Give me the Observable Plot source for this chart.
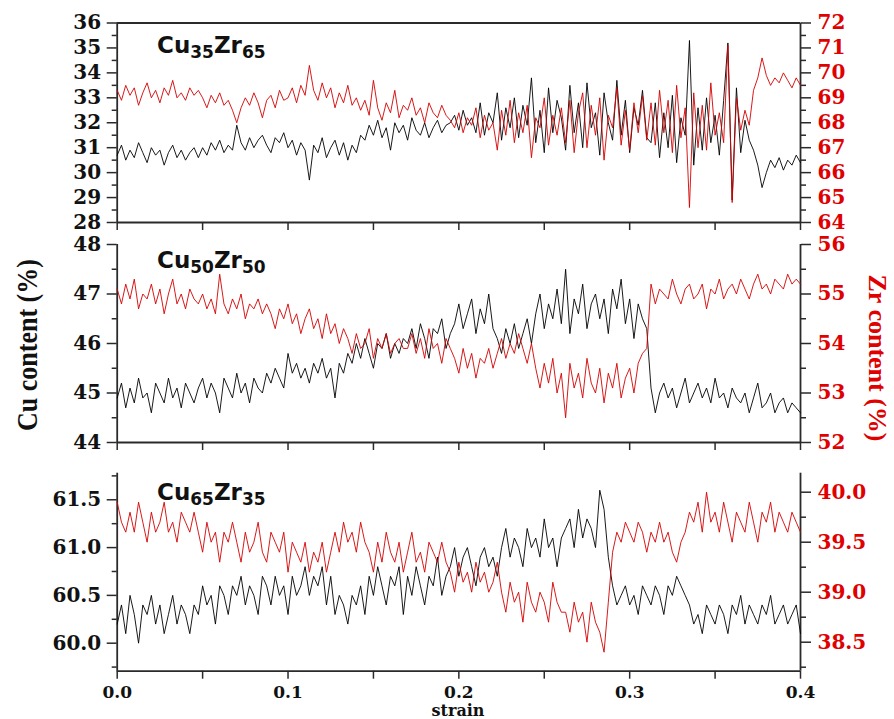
<!DOCTYPE html>
<html><head><meta charset="utf-8">
<script src="https://cdn.jsdelivr.net/npm/d3@7"></script>
<script src="https://cdn.jsdelivr.net/npm/@observablehq/plot@0.6"></script>
<style>
body{margin:0;background:#fff;}
#chart{position:relative;width:894px;height:719px;overflow:hidden;background:#fff;}
#chart svg{position:absolute;left:0;top:0;}
.ytitle{position:absolute;font-family:'Liberation Serif','Times New Roman',Times,serif;font-weight:bold;font-size:26px;white-space:nowrap;line-height:1;}
.plabel{position:absolute;left:157px;font-family:"DejaVu Sans",sans-serif;font-weight:bold;font-size:23px;white-space:nowrap;line-height:1;color:#111;}
.plabel span{font-size:17px;position:relative;top:5px;}
.xtitle{position:absolute;left:458px;top:703px;transform:translateX(-50%);font-family:"DejaVu Serif",serif;font-weight:bold;font-size:16px;line-height:1;color:#111;}
</style></head>
<body>
<div id="chart"></div>
<script>
// strain grid (step 0.0025, 0 .. 0.4)
const strainStep = 0.0025;
const strain = d3.range(161).map(i => +(i * strainStep).toFixed(4));

// Panel 1: Cu35Zr65
const cu35 = [
30.7,31.1,30.5,30.9,30.6,31.2,30.8,30.4,31.0,30.7,30.9,30.3,30.8,31.1,30.6,30.9,30.5,30.8,31.0,30.6,
31.0,30.7,31.2,30.9,31.3,30.8,31.1,30.9,
31.9,31.2,30.9,31.4,31.0,31.3,31.5,31.1,30.8,31.4,31.2,31.6,
31.0,31.3,30.7,31.2,30.9,29.7,31.1,30.8,31.4,30.6,31.0,31.3,30.7,31.2,30.5,31.1,30.8,31.5,
31.3,31.9,31.5,32.1,31.4,31.8,30.9,32.0,31.6,31.9,31.3,32.2,31.7,31.5,32.0,31.4,31.8,32.1,31.6,31.9,
32.0,32.3,31.7,32.5,31.9,32.2,31.6,32.8,31.5,32.4,32.0,33.2,31.3,32.6,31.8,33.0,31.4,32.7,31.9,33.8,31.2,32.5,30.8,33.4,31.6,32.9,
32.2,30.9,33.5,31.6,32.8,31.0,33.6,31.8,32.4,30.7,33.2,32.0,31.3,33.7,31.5,32.9,30.8,32.6,31.9,33.3,31.4,
31.2,32.8,30.6,32.4,31.0,33.1,30.4,32.2,31.5,35.3,30.3,32.6,30.9,33.0,31.2,32.3,30.7,32.9,35.2,28.9,33.4,30.8,32.1,31.3,
30.9,30.3,29.4,30.0,30.5,30.2,30.6,30.1,30.5,30.3,30.7,30.4
];
const zr65 = [
69.3,68.9,69.5,69.1,69.4,68.7,69.2,69.6,69.0,69.3,68.8,69.4,69.1,69.7,69.0,69.2,68.9,69.4,69.1,69.3,
69.0,68.6,69.1,68.8,69.2,68.7,68.9,68.5,
68.0,68.6,69.0,68.7,69.2,68.8,68.2,68.9,69.1,68.6,69.3,68.9,
69.0,69.4,68.8,69.5,69.1,70.3,69.3,68.9,69.6,69.0,69.4,68.6,69.2,68.8,69.5,68.7,69.0,68.5,
68.9,68.3,69.7,68.6,68.1,68.8,68.4,69.3,68.2,68.7,68.5,69.0,68.3,68.6,68.0,68.8,68.4,68.2,68.7,68.3,
68.1,67.8,68.4,67.6,68.2,67.9,68.6,67.4,68.3,67.7,68.0,66.9,68.5,67.5,68.9,67.2,68.4,67.6,68.7,66.6,68.2,67.8,69.0,67.1,68.3,67.5,
68.6,67.2,68.9,66.8,68.4,69.2,67.0,68.7,67.5,69.0,66.5,68.3,67.8,69.4,67.1,68.5,66.9,68.8,67.6,69.1,67.3,
68.8,67.1,69.3,67.6,68.9,66.8,69.5,67.4,68.6,64.6,69.2,67.0,68.7,66.9,69.6,67.5,68.4,67.2,71.1,64.8,69.0,67.7,68.5,67.9,
69.3,69.8,70.6,69.9,69.5,69.8,69.6,70.0,69.7,69.4,69.8,69.5
];

// Panel 2: Cu50Zr50
const cu50 = [
44.9,45.2,44.7,45.1,44.8,45.3,44.9,45.0,44.6,45.2,45.0,44.8,45.3,44.9,45.1,44.7,45.2,45.0,44.8,45.1,
45.3,44.9,45.2,45.0,44.6,45.3,45.1,44.9,45.4,45.0,45.2,44.8,45.3,45.1,45.0,45.4,
45.2,45.5,45.3,45.1,45.8,45.4,45.6,45.3,45.5,45.2,45.6,45.4,45.7,45.3,45.5,44.9,45.6,45.4,
45.8,45.6,46.0,45.7,46.1,45.8,45.5,46.0,45.9,46.2,45.7,46.0,45.8,46.1,
46.0,46.3,45.9,46.4,46.1,45.7,46.3,46.2,46.5,45.9,46.2,
46.4,46.8,46.3,46.6,46.9,46.2,46.7,46.4,47.0,46.3,
46.1,45.8,46.3,46.0,46.4,45.9,46.2,46.5,46.0,
46.6,47.0,46.3,46.8,46.5,47.1,46.4,47.5,46.2,46.9,46.6,47.2,46.3,46.8,47.0,46.5,46.9,46.2,47.1,46.7,47.3,46.4,46.9,46.1,46.8,46.5,46.3,
45.1,44.6,45.0,45.2,44.9,45.1,44.7,45.0,45.3,44.8,45.0,45.2,44.9,45.1,44.8,45.3,44.9,45.0,44.7,45.1,44.9,44.8,45.0,44.6,44.9,45.2,44.7,44.8,45.0,44.6,44.8,44.9,44.6,44.8,44.7,44.6
];
const zr50 = [
55.1,54.8,55.2,54.9,55.3,54.7,55.0,54.9,55.2,54.8,55.1,54.6,55.0,55.3,54.8,55.0,54.7,55.1,54.9,54.8,
55.0,54.7,54.9,54.6,55.4,54.8,54.6,54.9,54.7,55.0,54.5,54.8,54.7,54.9,54.6,54.8,
54.6,54.3,54.7,54.5,54.8,54.4,54.6,54.2,54.5,54.7,54.3,54.5,54.1,54.6,54.2,54.4,54.0,54.3,
54.1,53.8,54.2,53.9,54.0,54.3,53.7,54.1,53.9,54.2,53.8,54.0,54.1,53.9,
53.9,54.2,53.8,54.1,53.7,54.3,53.9,54.0,53.6,54.1,53.9,
53.7,53.4,53.9,53.5,53.8,53.3,53.7,53.6,53.9,53.5,
53.8,54.1,53.7,54.0,53.8,54.2,53.9,53.6,54.0,
53.5,53.1,53.6,53.2,53.7,53.0,53.4,52.5,53.6,53.1,53.4,52.9,53.7,53.2,53.0,53.5,52.8,53.4,53.1,53.6,52.9,53.3,53.5,53.0,53.6,53.8,53.9,
55.2,54.8,55.1,55.0,54.9,55.3,55.0,54.8,55.1,55.2,54.9,55.0,55.2,54.7,55.1,55.0,55.3,54.9,55.1,55.2,55.0,55.3,55.1,54.9,55.2,55.4,55.1,55.2,55.0,55.3,55.2,55.1,55.4,55.2,55.3,55.2
];

// Panel 3: Cu65Zr35
const cu65 = [
60.2,60.4,60.1,60.5,60.3,60.0,60.4,60.3,60.5,60.2,60.4,60.1,60.3,60.5,60.2,60.4,60.3,60.1,60.4,
60.3,60.6,60.4,60.5,60.2,60.6,60.5,60.3,60.6,
60.5,60.7,60.4,60.6,60.5,60.3,60.7,60.6,60.4,60.7,60.5,60.6,60.3,60.7,60.5,
60.6,60.8,60.5,60.7,60.6,60.8,60.4,60.7,
60.3,60.5,60.4,60.2,60.5,60.4,60.6,60.3,
60.7,60.5,60.8,60.6,60.4,60.7,60.6,60.8,60.3,60.7,60.5,60.8,60.6,60.4,60.7,60.6,60.9,60.5,60.7,
60.8,61.0,60.7,60.9,61.0,60.8,60.6,60.9,61.0,60.8,60.9,60.7,
61.0,61.2,60.9,61.1,61.0,60.8,61.2,61.0,61.1,60.9,61.3,61.0,61.1,60.8,61.1,
61.2,61.3,61.0,61.4,61.1,61.3,61.2,61.0,61.6,61.4,60.9,
60.6,60.4,60.5,60.6,60.4,60.5,60.3,60.6,60.5,60.4,60.6,60.5,60.3,60.6,60.5,60.7,
60.6,60.5,60.4,60.2,60.3,60.1,
60.4,60.3,60.2,60.4,60.3,60.1,60.4,60.3,60.5,60.2,60.4,60.3,60.2,60.4,60.3,60.5,60.2,60.3,60.4,60.2,60.3,60.4,60.1
];
const zr35 = [
39.9,39.7,39.6,39.8,39.6,39.9,39.7,39.5,39.8,39.6,39.7,39.9,39.6,39.7,39.5,39.8,39.7,39.6,39.8,
39.6,39.4,39.7,39.5,39.6,39.3,39.6,39.5,39.7,
39.5,39.3,39.6,39.4,39.5,39.7,39.4,39.3,39.6,39.5,39.4,39.6,39.2,39.5,39.4,
39.3,39.5,39.2,39.4,39.3,39.5,39.2,39.4,
39.6,39.4,39.7,39.5,39.6,39.4,39.7,39.5,
39.4,39.2,39.5,39.3,39.6,39.4,39.3,39.5,39.2,39.4,39.6,39.3,39.4,39.2,39.5,39.4,39.3,39.5,39.3,
39.2,39.0,39.3,39.1,39.2,39.0,39.3,39.1,39.2,39.0,39.1,39.3,
39.0,38.8,39.1,38.9,39.0,38.7,39.1,38.9,38.8,39.0,38.9,38.7,39.1,38.9,38.8,
38.8,38.6,38.9,38.7,38.8,38.5,38.9,38.7,38.6,38.4,38.9,
39.4,39.6,39.5,39.7,39.6,39.5,39.7,39.6,39.4,39.6,39.5,39.7,39.5,39.6,39.4,39.3,
39.5,39.6,39.8,39.7,39.9,39.6,
40.0,39.7,39.8,39.6,39.9,39.7,39.5,39.8,39.7,39.6,39.9,39.7,39.5,39.8,39.7,39.9,39.6,39.8,39.7,39.6,39.8,39.7,39.6
];

// ticks
const xTicks = [0, 0.05, 0.1, 0.15, 0.2, 0.25, 0.3, 0.35, 0.4];
const cu35Ticks = [28,29,30,31,32,33,34,35,36];
const cu35Minor = [28.5,29.5,30.5,31.5,32.5,33.5,34.5,35.5];
const zr65Ticks = [64,65,66,67,68,69,70,71,72];
const zr65Minor = [64.5,65.5,66.5,67.5,68.5,69.5,70.5,71.5];
const cu50Ticks = [44,45,46,47,48];
const cu50Minor = [44.5,45.5,46.5,47.5];
const zr50Ticks = [52,53,54,55,56];
const zr50Minor = [52.5,53.5,54.5,55.5];
const cu65Ticks = [60.0,60.5,61.0,61.5];
const cu65Minor = [59.75,60.25,60.75,61.25,61.75];
const zr35Ticks = [38.5,39.0,39.5,40.0];
const zr35Minor = [38.25,38.75,39.25,39.75];

const W = 894, H = 719, ML = 116.7, MR = 94;
const AXIS = "#2a2a2a", RED = "#d40000", LABELRED = "#e00000";
const serif = "DejaVu Serif";

function panel({top, bottom, domain, values, ticks, minor, fmt, anchor, lineColor, labelColor, isCu, showX, topFrame}) {
  const data = values.map((v, i) => ({x: strain[i], y: v}));
  const marks = [];
  if (isCu) {
    marks.push(Plot.ruleX([0], {stroke: AXIS, strokeWidth: 1.8}));
    marks.push(Plot.ruleX([0.4], {stroke: AXIS, strokeWidth: 1.8}));
    marks.push(Plot.ruleY([domain[0]], {stroke: AXIS, strokeWidth: 1.8}));
    if (topFrame) marks.push(Plot.ruleY([domain[1]], {stroke: AXIS, strokeWidth: 1.8}));
    marks.push(Plot.axisX(xTicks, {anchor: "bottom", tickSize: 8, tickPadding: 7, stroke: AXIS, strokeWidth: 1.5,
      tickFormat: showX ? (d => Math.abs(d * 10 - Math.round(d * 10)) < 1e-6 ? d.toFixed(1) : "") : (() => ""),
      fill: "#111", fontFamily: serif, fontWeight: "bold", fontSize: 17, label: null}));
  }
  marks.push(Plot.line(data, {x: "x", y: "y", stroke: lineColor, strokeWidth: 0.9}));
  marks.push(Plot.axisY(minor, {anchor, tickSize: 5, stroke: AXIS, strokeWidth: 1.5, tickFormat: () => "", label: null}));
  marks.push(Plot.axisY(ticks, {anchor, tickSize: 10, tickPadding: anchor === "left" ? 6 : 7, stroke: AXIS, strokeWidth: 1.5,
    tickFormat: fmt, fill: labelColor, fontFamily: serif, fontWeight: "bold", fontSize: 20, label: null}));
  return Plot.plot({
    width: W, height: H,
    marginLeft: ML, marginRight: MR, marginTop: top, marginBottom: H - bottom,
    x: {domain: [0, 0.4], label: null, axis: isCu ? undefined : null},
    y: {domain, label: null},
    style: {background: "transparent", overflow: "visible"},
    marks
  });
}

const int = d => String(d);
const one = d => d.toFixed(1);
const specs = [
  {top: 22.5, bottom: 222, domain: [28, 36], values: cu35, ticks: cu35Ticks, minor: cu35Minor, fmt: int, anchor: "left", lineColor: "#000", labelColor: "#111", isCu: true, showX: false, topFrame: true},
  {top: 22.5, bottom: 222, domain: [64, 72], values: zr65, ticks: zr65Ticks, minor: zr65Minor, fmt: int, anchor: "right", lineColor: RED, labelColor: LABELRED},
  {top: 244, bottom: 442, domain: [44, 48], values: cu50, ticks: cu50Ticks, minor: cu50Minor, fmt: int, anchor: "left", lineColor: "#000", labelColor: "#111", isCu: true, showX: false},
  {top: 244, bottom: 442, domain: [52, 56], values: zr50, ticks: zr50Ticks, minor: zr50Minor, fmt: int, anchor: "right", lineColor: RED, labelColor: LABELRED},
  {top: 472.7, bottom: 670.7, domain: [59.707, 61.778], values: cu65, ticks: cu65Ticks, minor: cu65Minor, fmt: one, anchor: "left", lineColor: "#000", labelColor: "#111", isCu: true, showX: true},
  {top: 472.7, bottom: 670.7, domain: [38.21, 40.19], values: zr35, ticks: zr35Ticks, minor: zr35Minor, fmt: one, anchor: "right", lineColor: RED, labelColor: LABELRED}
];

const chart = document.getElementById("chart");
for (const s of specs) chart.appendChild(panel(s));

function addDiv(cls, html, style) {
  const d = document.createElement("div");
  d.className = cls; d.innerHTML = html;
  Object.assign(d.style, style);
  chart.appendChild(d);
}
addDiv("plabel", "Cu<span>35</span>Zr<span>65</span>", {top: "33.5px"});
addDiv("plabel", "Cu<span>50</span>Zr<span>50</span>", {top: "248.5px"});
addDiv("plabel", "Cu<span>65</span>Zr<span>35</span>", {top: "480.5px"});
addDiv("ytitle", "Cu content (%)", {left: "28px", top: "345px", color: "#111", transform: "translate(-50%,-50%) rotate(-90deg) scaleY(1.15)"});
addDiv("ytitle", "Zr content (%)", {left: "877px", top: "358px", color: LABELRED, transform: "translate(-50%,-50%) rotate(90deg)"});
addDiv("xtitle", "strain", {});
</script>
</body></html>
